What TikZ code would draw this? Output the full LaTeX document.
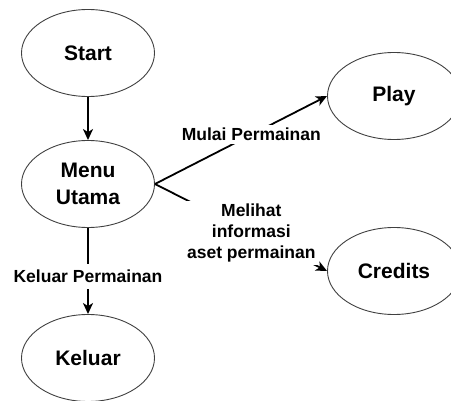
\documentclass[tikz,border=0pt]{standalone}
\usepackage{fontspec}
\setmainfont{Liberation Sans}
\usetikzlibrary{shapes.geometric, arrows.meta, positioning}

\begin{document}
\begin{tikzpicture}[x=1pt, y=-1pt,
        state/.style={ellipse, draw=black!75, line width=0.9pt, minimum width=133pt, minimum height=87pt, inner sep=0pt, align=center, font=\fontsize{21}{27}\selectfont\bfseries},
        flow/.style={-{Stealth[length=11pt, width=10pt, inset=3pt]}, line width=1.8pt},
        lbl/.style={fill=white, inner sep=3pt, align=center, font=\fontsize{17.5}{21}\selectfont\bfseries}
    ]
        \useasboundingbox (0,0) rectangle (451,401);
        \node[state] (start) at (88,53) {Start};
        \node[state] (menu) at (88,184) {Menu\\Utama};
        \node[state] (play) at (394,96) {Play};
        \node[state] (credits) at (394,271) {Credits};
        \node[state] (keluar) at (88,358) {Keluar};
        \draw[flow] (start) -- (menu);
        \draw[flow] (menu.east) -- node[lbl, pos=0.56] {Mulai Permainan} (play.west);
        \draw[flow] (menu.east) -- node[lbl, pos=0.56] {Melihat\\informasi\\aset permainan} (credits.west);
        \draw[flow] (menu) -- node[lbl, pos=0.56, inner ysep=6pt] {Keluar Permainan} (keluar);
    \end{tikzpicture}
\end{document}
